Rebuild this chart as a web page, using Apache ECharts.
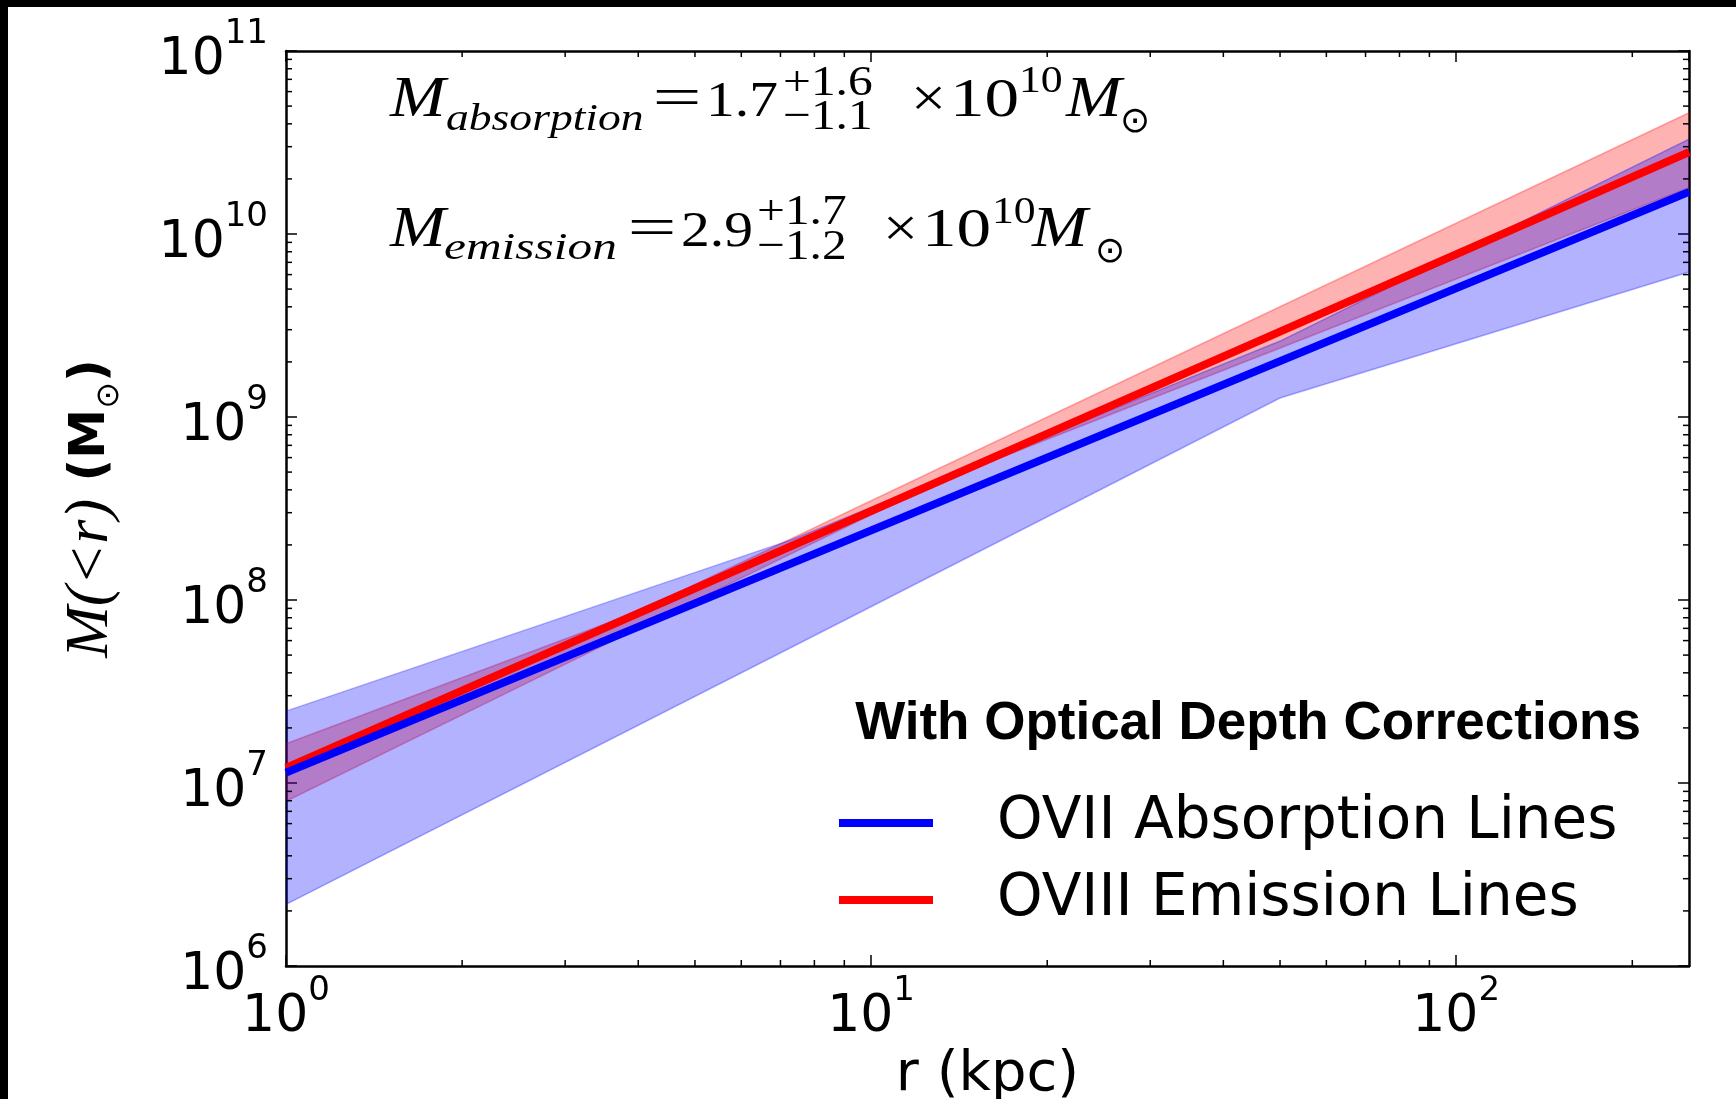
<!DOCTYPE html>
<html>
<head>
<meta charset="utf-8">
<script src="https://cdn.jsdelivr.net/npm/echarts@6/dist/echarts.min.js"></script>
<style>
  html, body { margin: 0; padding: 0; background: #fff; }
  #chart { width: 1736px; height: 1099px; }
</style>
</head>
<body>
<div id="chart"></div>
<script>
// radius (kpc) and enclosed mass (Msun)
const rLine = [1, 250];
const absorptionMass = [1.14e7, 1.7e10];
const emissionMass = [1.21e7, 2.8e10];

// uncertainty bands
const rAbsBand = [1, 7.3, 50, 250];
const absLow = [2.17e6, 5.5e7, 1.27e9, 6.2e9];
const absHigh = [2.47e7, 2.13e8, 2.6e9, 3.3e10];

const rEmiBand = [1, 4, 13, 250];
const emiLow = [7.95e6, 7.0e7, 4.4e8, 1.79e10];
const emiHigh = [1.64e7, 8.65e7, 5.2e8, 4.6e10];

// axes
const xMin = 1, xMax = 250, yMin = 1e6, yMax = 1e11;
const xTickValues = [1, 10, 100];
const xTickExps = ['0', '1', '2'];
const yTickValues = [1e6, 1e7, 1e8, 1e9, 1e10, 1e11];
const yTickExps = ['6', '7', '8', '9', '10', '11'];
const xMinorTicks = [2, 3, 4, 5, 6, 7, 8, 9, 20, 30, 40, 50, 60, 70, 80, 90, 200];
const yMinorTicks = [
  2e6, 3e6, 4e6, 5e6, 6e6, 7e6, 8e6, 9e6,
  2e7, 3e7, 4e7, 5e7, 6e7, 7e7, 8e7, 9e7,
  2e8, 3e8, 4e8, 5e8, 6e8, 7e8, 8e8, 9e8,
  2e9, 3e9, 4e9, 5e9, 6e9, 7e9, 8e9, 9e9,
  2e10, 3e10, 4e10, 5e10, 6e10, 7e10, 8e10, 9e10
];

const legendNames = ['OVII Absorption Lines', 'OVIII Emission Lines'];

const pairs = (xs, ys) => xs.map((x, i) => [x, ys[i]]);

function powLabel(values, exps) {
  return v => {
    const i = values.findIndex(t => Math.abs(t - v) / t < 1e-6);
    return i < 0 ? '' : '{b|10}{s|' + exps[i] + '}';
  };
}

const tickRich = {
  b: { fontFamily: 'DejaVu Sans', fontSize: 52, lineHeight: 86, color: '#000' },
  s: { fontFamily: 'DejaVu Sans', fontSize: 34, lineHeight: 40, verticalAlign: 'top', color: '#000' }
};

// pieces of the LaTeX-like annotation text
const serif = 'Liberation Serif';
function mathText(text, x, baseline, size, italic, align, sx) {
  return {
    type: 'text', x: x, y: baseline - 0.34 * size, scaleX: sx || 1.15, silent: true, z: 100,
    style: {
      text: text, fontFamily: serif, fontSize: size,
      fontStyle: italic ? 'italic' : 'normal', fill: '#000',
      align: align || 'left', verticalAlign: 'middle'
    }
  };
}
function sun(x, y) {
  return {
    type: 'text', x: x, y: y, silent: true, z: 100,
    style: { text: '\u2299', fontFamily: 'DejaVu Sans', fontSize: 36, fill: '#000', align: 'center', verticalAlign: 'middle' }
  };
}

// filled band between lo and hi, drawn once from all rows of the series
function bandSeries(rs, lo, hi, color) {
  return {
    type: 'custom', silent: true, z: 1,
    data: rs.map((r, i) => [r, lo[i], hi[i]]),
    encode: { x: 0, y: [1, 2] },
    renderItem: (params, api) => {
      if (params.dataIndexInside !== 0) return null;
      const n = params.dataInsideLength;
      const upper = [], lower = [];
      for (let i = 0; i < n; i++) {
        upper.push(api.coord([api.value(0, i), api.value(2, i)]));
        lower.push(api.coord([api.value(0, i), api.value(1, i)]));
      }
      const edge = { stroke: color, opacity: 0.3, lineWidth: 1.5, fill: null };
      return { type: 'group', children: [
        { type: 'polygon', shape: { points: upper.concat(lower.slice().reverse()) }, style: { fill: color, opacity: 0.3 } },
        { type: 'polyline', shape: { points: upper }, style: edge },
        { type: 'polyline', shape: { points: lower }, style: edge }
      ] };
    }
  };
}

const tickStyle = { stroke: '#000', lineWidth: 1.5 };

const chart = echarts.init(document.getElementById('chart'));

const axisCommon = {
  type: 'log', logBase: 10,
  splitLine: { show: false },
  axisLine: { show: true, onZero: false, lineStyle: { color: '#000', width: 2.5 } },
  axisTick: { show: true, inside: true, length: 11, lineStyle: { color: '#000', width: 1.5 } }
};

chart.setOption({
  animation: false,
  backgroundColor: '#fff',
  grid: { left: 286, top: 51, right: 47, bottom: 133, containLabel: false, outerBoundsMode: 'none' },
  xAxis: [
    Object.assign({}, axisCommon, {
      position: 'bottom', min: xMin, max: xMax,
      axisLabel: { formatter: powLabel(xTickValues, xTickExps), rich: tickRich, margin: 8, showMaxLabel: false, hideOverlap: false },
      name: 'r (kpc)', nameLocation: 'middle', nameGap: 79,
      nameTextStyle: { fontFamily: 'DejaVu Sans', fontSize: 56, lineHeight: 56, color: '#000' }
    }),
    Object.assign({}, axisCommon, {
      position: 'top', min: xMin, max: xMax, axisLabel: { show: false }
    })
  ],
  yAxis: [
    Object.assign({}, axisCommon, {
      position: 'left', min: yMin, max: yMax,
      axisLabel: { formatter: powLabel(yTickValues, yTickExps), rich: tickRich, margin: 18, padding: [19, 0, 0, 0], hideOverlap: false },
      name: '{a|M(<r)}{b| (M}{c|\u2299}{b|)}', nameLocation: 'middle', nameRotate: 90, nameGap: 160,
      nameTextStyle: {
        rich: {
          a: { fontFamily: serif, fontStyle: 'italic', fontSize: 62, lineHeight: 70, color: '#000' },
          b: { fontFamily: 'DejaVu Sans', fontWeight: 'bold', fontSize: 50, lineHeight: 70, color: '#000' },
          c: { fontFamily: 'DejaVu Sans', fontSize: 32, lineHeight: 30, verticalAlign: 'bottom', color: '#000' }
        }
      }
    }),
    Object.assign({}, axisCommon, {
      position: 'right', min: yMin, max: yMax, axisLabel: { show: false }
    })
  ],
  legend: {
    data: legendNames,
    orient: 'vertical', left: 839, top: 793, padding: 0, itemGap: 17,
    itemWidth: 94, itemHeight: 8, icon: 'rect', selectedMode: false,
    textStyle: { fontFamily: 'DejaVu Sans', fontSize: 58, lineHeight: 60, color: '#000', padding: [0, 0, 0, 59] }
  },
  graphic: [
    { type: 'rect', shape: { x: 0, y: 0, width: 1736, height: 7 }, style: { fill: '#000' }, silent: true, z: 100 },
    { type: 'rect', shape: { x: 0, y: 0, width: 8, height: 1099 }, style: { fill: '#000' }, silent: true, z: 100 },
    {
      type: 'text', x: 1248, y: 724, silent: true, z: 100,
      style: { text: 'With Optical Depth Corrections', fontFamily: 'Liberation Sans', fontWeight: 'bold', fontSize: 53, fill: '#000', align: 'center', verticalAlign: 'middle' }
    },
    // M_absorption = 1.7 (+1.6 -1.1) x10^10 Msun
    mathText('M', 390, 120, 58, true),
    mathText('absorption', 446, 133, 38, true, 'left', 1.2),
    mathText('=', 677, 120, 58, false, 'center', 1.5),
    mathText('1.7', 706, 120, 50),
    mathText('+1.6', 783, 98, 43),
    mathText('\u22121.1', 783, 132, 43),
    mathText('\u00d7', 911, 120, 54),
    mathText('10', 950, 120, 54, false, 'left', 1.28),
    mathText('10', 1019, 95, 38),
    mathText('M', 1066, 120, 58, true),
    sun(1135, 123),
    // M_emission = 2.9 (+1.7 -1.2) x10^10 Msun
    mathText('M', 390, 250, 58, true),
    mathText('emission', 444, 262, 38, true, 'left', 1.3),
    mathText('=', 652, 250, 58, false, 'center', 1.5),
    mathText('2.9', 681, 250, 50),
    mathText('+1.7', 757, 227, 43),
    mathText('\u22121.2', 757, 262, 43),
    mathText('\u00d7', 883, 250, 54),
    mathText('10', 922, 250, 54, false, 'left', 1.28),
    mathText('10', 992, 226, 38),
    mathText('M', 1032, 250, 58, true),
    sun(1110, 253)
  ],
  series: [
    bandSeries(rEmiBand, emiLow, emiHigh, '#ff0000'),
    bandSeries(rAbsBand, absLow, absHigh, '#0000ff'),
    {
      name: legendNames[1], type: 'line', data: pairs(rLine, emissionMass), symbol: 'none',
      color: '#ff0000', itemStyle: { color: '#ff0000' }, lineStyle: { color: '#ff0000', width: 8 }, z: 3
    },
    {
      name: legendNames[0], type: 'line', data: pairs(rLine, absorptionMass), symbol: 'none',
      color: '#0000ff', itemStyle: { color: '#0000ff' }, lineStyle: { color: '#0000ff', width: 8 }, z: 4
    },
    {
      // minor ticks along bottom and top
      type: 'custom', silent: true, z: 10,
      data: xMinorTicks.map(v => [v, yMin]),
      renderItem: (params, api) => {
        const v = api.value(0);
        const b = api.coord([v, yMin]);
        const t = api.coord([v, yMax]);
        return { type: 'group', children: [
          { type: 'line', shape: { x1: b[0], y1: b[1], x2: b[0], y2: b[1] - 6 }, style: tickStyle },
          { type: 'line', shape: { x1: t[0], y1: t[1], x2: t[0], y2: t[1] + 6 }, style: tickStyle }
        ] };
      }
    },
    {
      // minor ticks along left and right
      type: 'custom', silent: true, z: 10,
      data: yMinorTicks.map(v => [xMin, v]),
      renderItem: (params, api) => {
        const v = api.value(1);
        const l = api.coord([xMin, v]);
        const r = api.coord([xMax, v]);
        return { type: 'group', children: [
          { type: 'line', shape: { x1: l[0], y1: l[1], x2: l[0] + 6, y2: l[1] }, style: tickStyle },
          { type: 'line', shape: { x1: r[0], y1: r[1], x2: r[0] - 6, y2: r[1] }, style: tickStyle }
        ] };
      }
    }
  ]
});
</script>
</body>
</html>
